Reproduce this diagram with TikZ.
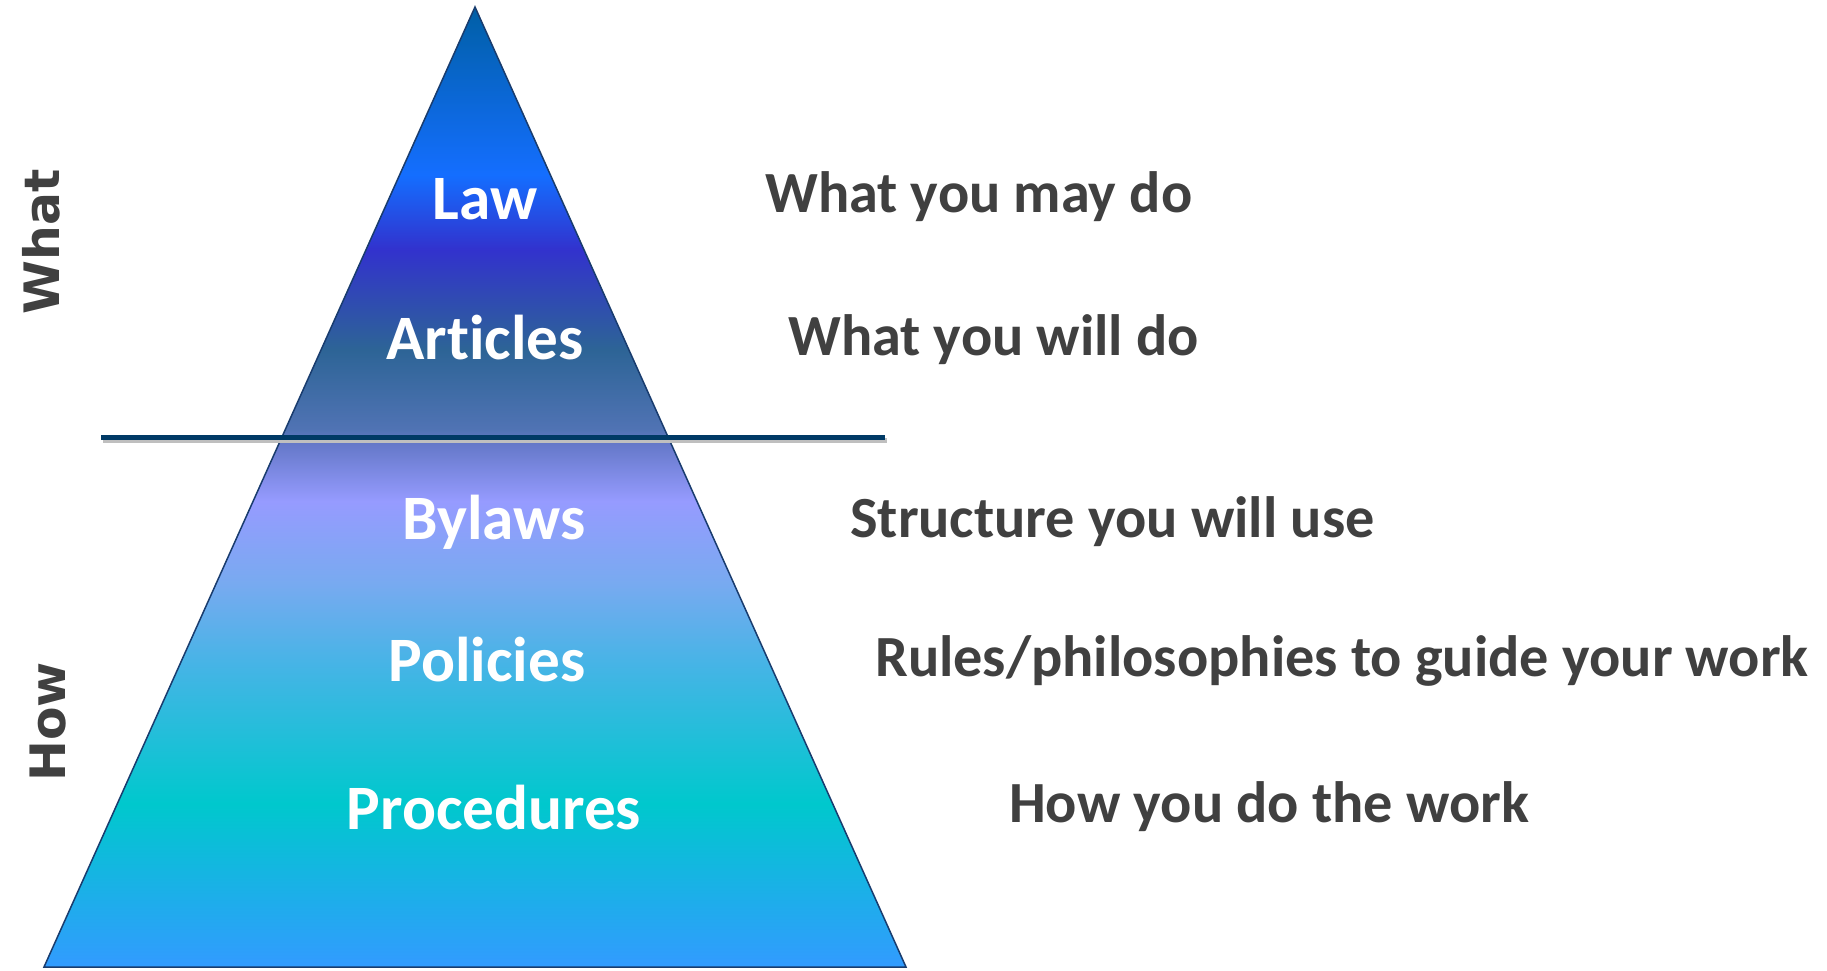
\documentclass[tikz,border=0pt]{standalone}
\usepackage{fontspec}
\setmainfont[Ligatures=NoCommon]{Carlito}
\newfontfamily\sidefont{DejaVu Sans}
\usepackage{xcolor}
\usepackage{tikz}
\usetikzlibrary{positioning}

\definecolor{pyrTop}{RGB}{0,95,165}
\definecolor{pyrLaw}{RGB}{20,110,255}
\definecolor{pyrViolet}{RGB}{50,50,205}
\definecolor{pyrSteel}{RGB}{45,100,150}
\definecolor{pyrMid}{RGB}{80,115,180}
\definecolor{pyrLow}{RGB}{100,120,200}
\definecolor{pyrLilac}{RGB}{150,155,255}
\definecolor{pyrSky}{RGB}{120,170,240}
\definecolor{pyrAqua}{RGB}{70,180,230}
\definecolor{pyrTeal}{RGB}{0,200,205}
\definecolor{pyrBase}{RGB}{50,155,255}
\definecolor{rule}{RGB}{0,58,102}
\definecolor{edge}{RGB}{25,60,110}
\definecolor{txt}{RGB}{64,64,64}

\pgfdeclareverticalshading{pyramid}{100bp}{
  color(0bp)=(pyrBase); color(25bp)=(pyrBase); color(33.5bp)=(pyrTeal);
  color(40.8bp)=(pyrAqua); color(45bp)=(pyrSky); color(49.25bp)=(pyrLilac);
  color(52.3bp)=(pyrLow); color(53bp)=(pyrMid); color(57.15bp)=(pyrSteel);
  color(62.35bp)=(pyrViolet); color(66.25bp)=(pyrLaw); color(75bp)=(pyrTop);
  color(100bp)=(pyrTop)}

\tikzset{
  level/.style={font=\fontsize{63.5}{76}\selectfont\bfseries, text=white, anchor=base, inner sep=0pt},
  meaning/.style={font=\fontsize{58.5}{70}\selectfont\bfseries, text=txt, anchor=base west, inner sep=0pt},
  side/.style={font=\sidefont\fontsize{49}{60}\selectfont\bfseries, text=txt, rotate=90, inner sep=0pt}
}

\begin{document}
\begin{tikzpicture}[x=1bp, y=-1bp]
  \useasboundingbox (0,0) rectangle (1827,970);

  % Pyramid
  \coordinate (apex) at (475,7);
  \coordinate (baseL) at (44,967);
  \coordinate (baseR) at (906,967);
  \draw[edge, line width=1.5bp, shading=pyramid] (apex) -- (baseR) -- (baseL) -- cycle;

  % Divider
  \coordinate (ruleL) at (101,437);
  \coordinate (ruleR) at (885,437);
  \draw[black!25, line width=5bp] ([shift={(2,3)}]ruleL) -- ([shift={(2,3)}]ruleR);
  \draw[rule, line width=5bp] (ruleL) -- (ruleR);

  % Levels
  \node[level] (law) at (485,219) {Law};
  \node[level] (articles) at (485,359) {Articles};
  \node[level] (bylaws) at (494,539) {Bylaws};
  \node[level] (policies) at (487,681) {Policies};
  \node[level] (procedures) at (494,829) {Procedures};

  % Meanings (right)
  \node[meaning] (may) at (765,212) {What you may do};
  \node[meaning] (will) at (788,355) {What you will do};
  \node[meaning] (structure) at (850,537) {Structure you will use};
  \node[meaning] (rules) at (875,676) {Rules/philosophies to guide your work};
  \node[meaning] (howdo) at (1009,822) {How you do the work};

  % Side labels
  \node[side] (what) at (41,242) {What};
  \node[side] (how) at (48,722) {How};
\end{tikzpicture}
\end{document}
